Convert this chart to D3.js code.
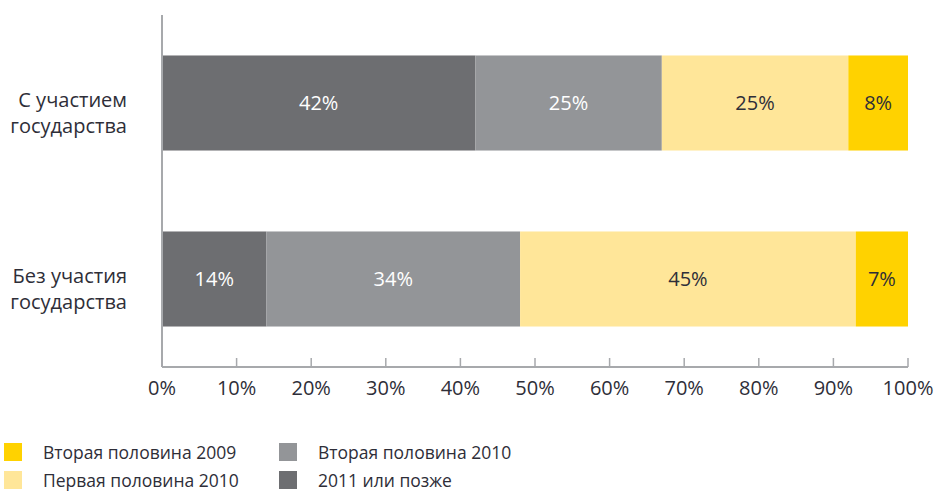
<!DOCTYPE html>
<html>
<head>
<meta charset="utf-8">
<script src="https://d3js.org/d3.v7.min.js"></script>
<style>
body { margin: 0; background: #fff; }
svg text { font-family: "Open Sans", "DejaVu Sans", sans-serif; fill: #2e2e38; }
</style>
</head>
<body>
<svg width="936" height="493"></svg>
<script>
var svg = d3.select("svg");

// data
var categories = ["С участием\nгосударства", "Без участия\nгосударства"];
var seriesNames = ["2011 или позже", "Вторая половина 2010", "Первая половина 2010", "Вторая половина 2009"];
var s2011 = [42, 14];
var s2010b = [25, 34];
var s2010a = [25, 45];
var s2009b = [8, 7];
var colors = ["#6d6e71", "#939598", "#ffe699", "#ffd200"];
var labelColors = ["#fff", "#fff", "#2e2e38", "#2e2e38"];
var ticks = [0, 10, 20, 30, 40, 50, 60, 70, 80, 90, 100];
var legendOrder = [3, 2, 1, 0];

var margin = {left: 162, right: 28, top: 15, bottom: 126};
var width = 936 - margin.left - margin.right,
    height = 493 - margin.top - margin.bottom;

var x = d3.scaleLinear().domain([0, 100]).range([0, width]);
var y = d3.scaleBand().domain(categories).range([0, height]).paddingInner(0.46).paddingOuter(0.23);

var g = svg.append("g").attr("transform", "translate(" + margin.left + "," + margin.top + ")");

var rows = categories.map(function(c, i) {
    return {cat: c, vals: [s2011[i], s2010b[i], s2010a[i], s2009b[i]]};
});

rows.forEach(function(r) {
    var stack = 0;
    r.vals.forEach(function(v, k) {
        var x0 = x(stack), x1 = x(stack + v);
        g.append("rect")
            .attr("x", x0).attr("y", y(r.cat))
            .attr("width", x1 - x0).attr("height", y.bandwidth())
            .attr("fill", colors[k]);
        g.append("text")
            .attr("x", (x0 + x1) / 2).attr("y", y(r.cat) + y.bandwidth() / 2 + 7)
            .attr("text-anchor", "middle")
            .style("font-size", "20px").style("fill", labelColors[k])
            .text(v + "%");
        stack += v;
    });
});

// axes
var axisColor = "#a7a9ac";
g.append("line").attr("x1", 0).attr("x2", 0).attr("y1", 0).attr("y2", height)
    .attr("stroke", axisColor).attr("stroke-width", 2);
g.append("line").attr("x1", 0).attr("x2", width).attr("y1", height).attr("y2", height)
    .attr("stroke", axisColor).attr("stroke-width", 2);
g.selectAll(".tick").data(ticks).enter().append("line")
    .attr("x1", d => x(d)).attr("x2", d => x(d))
    .attr("y1", height - 9).attr("y2", height)
    .attr("stroke", axisColor).attr("stroke-width", 1.5);
g.selectAll(".tl").data(ticks).enter().append("text")
    .attr("x", d => x(d)).attr("y", height + 28)
    .attr("text-anchor", "middle").style("font-size", "20px")
    .text(d => d + "%");

// category labels
categories.forEach(function(c) {
    var lines = c.split("\n");
    var cy = y(c) + y.bandwidth() / 2;
    lines.forEach(function(l, i) {
        g.append("text")
            .attr("x", -35).attr("y", cy + 3.5 + i * 26)
            .attr("text-anchor", "end").style("font-size", "20px")
            .text(l);
    });
});

// legend
var legend = svg.append("g");
legendOrder.forEach(function(k, i) {
    var col = Math.floor(i / 2), row = i % 2;
    var lx = 4 + col * 275, ly = 443 + row * 28;
    legend.append("rect").attr("x", lx).attr("y", ly).attr("width", 18).attr("height", 18)
        .attr("fill", colors[k]);
    legend.append("text").attr("x", lx + 39).attr("y", ly + 16)
        .style("font-size", "17.5px").text(seriesNames[k]);
});
</script>
</body>
</html>
